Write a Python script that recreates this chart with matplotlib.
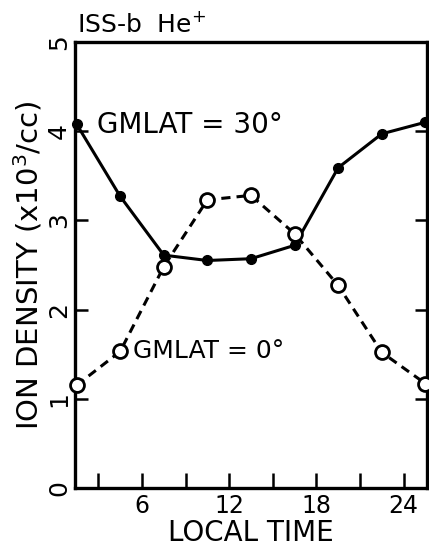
import matplotlib
matplotlib.use('Agg')
import matplotlib.pyplot as plt

# local time (hours) and He+ density (x10^3/cc)
local_time = [1.5, 4.5, 7.5, 10.5, 13.5, 16.5, 19.5, 22.5, 25.5]
dens_30 = [4.08, 3.27, 2.61, 2.55, 2.57, 2.72, 3.59, 3.97, 4.1]
dens_0 = [1.15, 1.53, 2.48, 3.23, 3.28, 2.85, 2.27, 1.52, 1.17]

xticks = [3, 6, 9, 12, 15, 18, 21, 24]
xticklabels = ['', '6', '', '12', '', '18', '', '24']
yticks = [0, 1, 2, 3, 4, 5]

plt.rcParams['font.family'] = 'DejaVu Sans'

fig = plt.figure(figsize=(4.29, 5.52), dpi=100, facecolor='w')
ax = fig.add_axes([0.175, 0.116, 0.82, 0.808])

ax.plot(local_time, dens_30, '-', color='k', lw=2.2, marker='o',
        ms=7, mfc='k', mec='k', clip_on=False, zorder=3)
ax.plot(local_time, dens_0, '--', color='k', lw=2.2, dashes=(3, 2),
        marker='o', ms=10, mfc='w', mec='k', mew=2, clip_on=False, zorder=4)

ax.set_xlim(1.4, 25.6)
ax.set_ylim(0, 4.96)

ax.set_xticks(xticks)
ax.set_xticklabels(xticklabels, fontsize=17)
ax.set_yticks(yticks)
ax.set_yticklabels([str(v) for v in yticks], fontsize=18, rotation=90, va='center')

ax.tick_params(axis='x', direction='in', length=11, width=1.8, top=False, pad=4)
ax.tick_params(axis='y', direction='in', length=9, width=1.8, right=True, pad=3)

for side in ['left', 'right', 'top', 'bottom']:
    ax.spines[side].set_linewidth(2.4)

ax.set_xlabel('LOCAL TIME', fontsize=20, labelpad=1)
ax.set_ylabel('ION DENSITY (x10$^3$/cc)', fontsize=21, labelpad=2)

ax.text(2.9, 4.07, 'GMLAT = 30°', fontsize=20, va='center', ha='left')
ax.text(5.4, 1.53, 'GMLAT = 0°', fontsize=18, va='center', ha='left')

fig.text(0.18, 0.955, 'ISS-b  He$^{+}$', fontsize=18, va='center', ha='left')

fig.savefig('out.png', dpi=100)
plt.close(fig)
